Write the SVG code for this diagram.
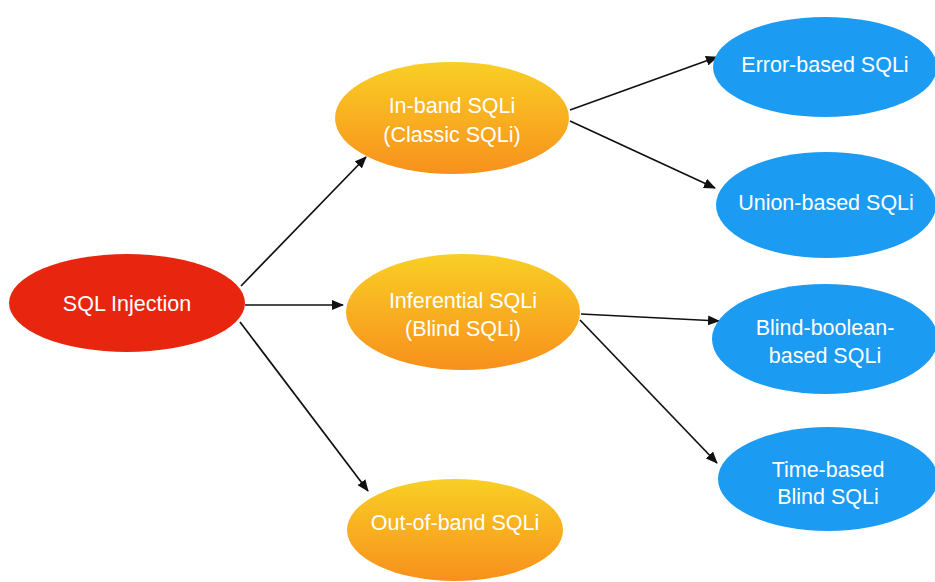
<svg xmlns="http://www.w3.org/2000/svg" width="935" height="582" viewBox="0 0 935 582">
<style>
text{font-family:"Liberation Sans",Arial,sans-serif;font-size:21.5px;fill:#ffffff;text-anchor:middle;dominant-baseline:central}
.red{fill:#e8260f}
.org{fill:url(#og)}
.blue{fill:#1b9bf2}
.edge{stroke:#111;stroke-width:1.7;fill:none;marker-end:url(#ah)}
</style>
<defs>
<linearGradient id="og" x1="0" y1="0" x2="0" y2="1">
<stop offset="0" stop-color="#f9cf25"/>
<stop offset="1" stop-color="#f8901c"/>
</linearGradient>
<marker id="ah" viewBox="0 0 12 10" refX="11" refY="5" markerWidth="12" markerHeight="10" orient="auto" markerUnits="userSpaceOnUse">
<path d="M0,0 L12,5 L0,10 z" fill="#111"/>
</marker>
</defs>
<rect width="935" height="582" fill="#ffffff"/>
<g id="connectors">
<line class="edge" x1="241" y1="286" x2="366" y2="157"/>
<line class="edge" x1="245" y1="305" x2="343" y2="305"/>
<line class="edge" x1="240" y1="322" x2="368" y2="491"/>
<line class="edge" x1="570" y1="110" x2="717" y2="57"/>
<line class="edge" x1="570" y1="121" x2="715" y2="188"/>
<line class="edge" x1="581" y1="314" x2="719" y2="321"/>
<line class="edge" x1="580" y1="320" x2="717" y2="463"/>
</g>
<g id="sql-injection">
<ellipse class="red" cx="127" cy="303" rx="118" ry="49"/>
<text x="127" y="304">SQL Injection</text>
</g>
<g id="in-band">
<ellipse class="org" cx="452" cy="118" rx="117" ry="56"/>
<text x="452" y="106">In-band SQLi</text>
<text x="452" y="135">(Classic SQLi)</text>
</g>
<g id="inferential">
<ellipse class="org" cx="463" cy="312" rx="117" ry="58"/>
<text x="463" y="301">Inferential SQLi</text>
<text x="463" y="329">(Blind SQLi)</text>
</g>
<g id="out-of-band">
<ellipse class="org" cx="455" cy="530" rx="108" ry="51"/>
<text x="455" y="523">Out-of-band SQLi</text>
</g>
<g id="error-based">
<ellipse class="blue" cx="825" cy="67" rx="112" ry="50"/>
<text x="825" y="65">Error-based SQLi</text>
</g>
<g id="union-based">
<ellipse class="blue" cx="826" cy="205" rx="110" ry="53"/>
<text x="826" y="203">Union-based SQLi</text>
</g>
<g id="blind-boolean">
<ellipse class="blue" cx="825" cy="339" rx="113" ry="55"/>
<text x="825" y="328">Blind-boolean-</text>
<text x="825" y="356">based SQLi</text>
</g>
<g id="time-based">
<ellipse class="blue" cx="828" cy="479" rx="110" ry="52"/>
<text x="828" y="470">Time-based</text>
<text x="828" y="497">Blind SQLi</text>
</g>
</svg>
